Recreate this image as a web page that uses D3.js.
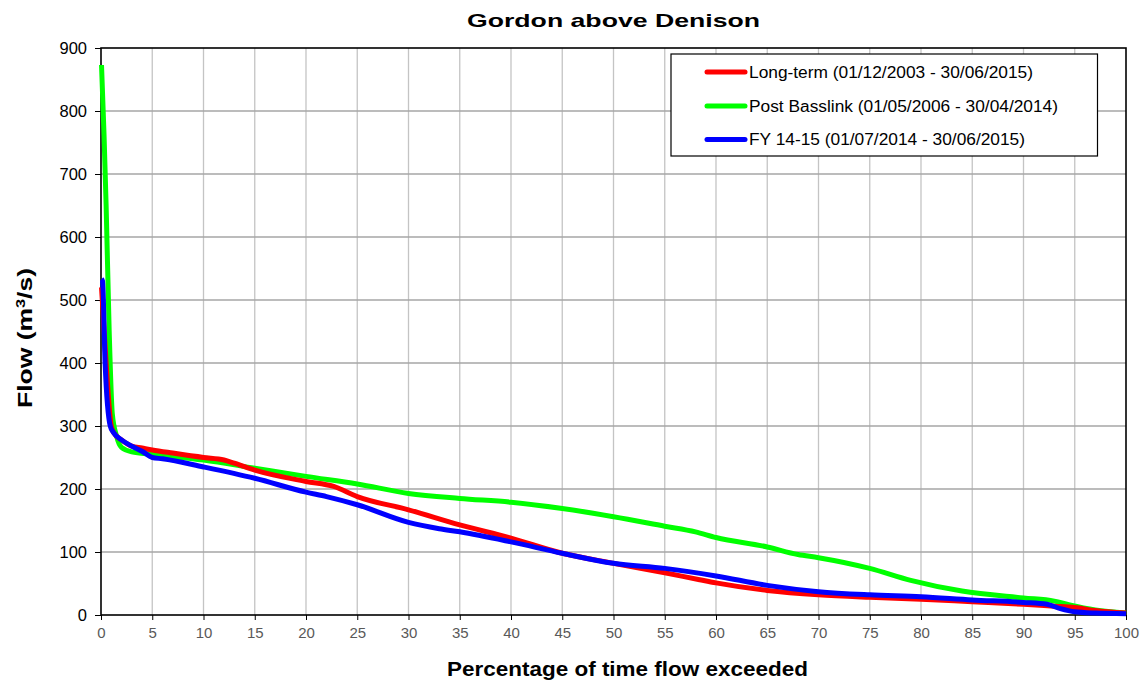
<!DOCTYPE html>
<html><head><meta charset="utf-8">
<script src="https://cdn.jsdelivr.net/npm/d3@7"></script>
<style>
html,body{margin:0;padding:0;background:#fff;}
svg{display:block;font-family:"Liberation Sans",Arial,sans-serif;}
</style></head>
<body><svg id="chart" width="1142" height="682"></svg>
<script>
const title = "Gordon above Denison";
const xTitle = "Percentage of time flow exceeded";
const xTicks = [0,5,10,15,20,25,30,35,40,45,50,55,60,65,70,75,80,85,90,95,100];
const yTicks = [0,100,200,300,400,500,600,700,800,900];
const seriesNames = ["Long-term (01/12/2003 - 30/06/2015)", "Post Basslink (01/05/2006 - 30/04/2014)", "FY 14-15 (01/07/2014 - 30/06/2015)"];
const seriesColors = ["#ff0000", "#00ff00", "#0000ff"];

const longTermX = [0.05,0.5,1.0,1.3,2,3,4,5,7,10,12,13,15,20,22.7,25,30,35,40,45,50,55,58.4,60,65,70,75,80,85,90,93,95,97,100];
const longTermY = [520,400,300,288,278,268,265,262,257,250,246,241,230,212,204,188,167,143,122,98,82,67,56,51,39,32,28,25,21,17,14,12,7,3];

const postX = [0.05,0.3,0.5,0.8,1.1,1.5,2,3,5,10,15,20,25,30,35,40,45,50,55,58,60,65,68,70,75,79,84,90,93,94.5,97,100];
const postY = [873,760,650,450,320,285,266,259,255,246,233,220,208,193,185,179,169,156,141,132,123,108,96,91,74,55,38,27,22,16,8,3];

const fyX = [0.05,0.15,0.4,0.9,1.2,2,3,4,5,6,10,15,20,22,25,30,33,35,40,45,50,55,60,65,70,75,80,85,90,92.3,93.6,95,97,100];
const fyY = [533,530,400,300,290,278,268,260,250,248,235,217,195,188,175,147,137,132,116,98,82,74,62,47,37,32,29,24,20,17,10,5,3,2];

const svg = d3.select("#chart");
const M = {left:101, right:1126, top:48, bottom:615};
const x = d3.scaleLinear().domain([0,100]).range([M.left, M.right]);
const y = d3.scaleLinear().domain([0,900]).range([M.bottom, M.top]);

// gridlines
svg.append("g").selectAll("line").data(xTicks.filter(d=>d>0&&d<100)).join("line")
  .attr("x1",d=>x(d)).attr("x2",d=>x(d)).attr("y1",M.top).attr("y2",M.bottom)
  .attr("stroke","#c4c4c4").attr("stroke-width",1.3);
svg.append("g").selectAll("line").data(yTicks.filter(d=>d>0&&d<900)).join("line")
  .attr("x1",M.left).attr("x2",M.right).attr("y1",d=>y(d)).attr("y2",d=>y(d))
  .attr("stroke","#a6a6a6").attr("stroke-width",1.3);

// frame
svg.append("rect").attr("x",M.left).attr("y",M.top).attr("width",M.right-M.left).attr("height",M.bottom-M.top)
  .attr("fill","none").attr("stroke","#000").attr("stroke-width",1.6);

// axes
const xAxis = svg.append("g").attr("transform",`translate(0,${M.bottom})`)
  .call(d3.axisBottom(x).tickValues(xTicks).tickSize(5).tickPadding(7).tickFormat(d3.format("d")));
xAxis.select(".domain").remove();
xAxis.selectAll("line").attr("stroke","#000");
xAxis.selectAll("text").attr("font-size",15).attr("fill","#595959").attr("font-family","Liberation Sans, Arial, sans-serif");

const yAxis = svg.append("g").attr("transform",`translate(${M.left},0)`)
  .call(d3.axisLeft(y).tickValues(yTicks).tickSize(6).tickPadding(8).tickFormat(d3.format("d")));
yAxis.select(".domain").remove();
yAxis.selectAll("line").attr("stroke","#000");
yAxis.selectAll("text").attr("font-size",16.5).attr("fill","#000").attr("font-family","Liberation Sans, Arial, sans-serif");

// lines
const line = d3.line().x(d=>x(d[0])).y(d=>y(d[1])).curve(d3.curveMonotoneX);
const series = [
  {xs:postX, ys:postY, c:seriesColors[1]},
  {xs:longTermX, ys:longTermY, c:seriesColors[0]},
  {xs:fyX, ys:fyY, c:seriesColors[2]}
];
series.forEach(s=>{
  svg.append("path").datum(s.xs.map((v,i)=>[v,s.ys[i]]))
    .attr("d",line).attr("fill","none").attr("stroke",s.c).attr("stroke-width",5)
    .attr("stroke-linejoin","round").attr("stroke-linecap","butt");
});

// titles
svg.append("text").attr("x",613.5).attr("y",27).attr("text-anchor","middle")
  .attr("font-size",19).attr("font-weight","bold")
  .attr("textLength",293).attr("lengthAdjust","spacingAndGlyphs").text(title);
svg.append("text").attr("x",627.5).attr("y",676).attr("text-anchor","middle")
  .attr("font-size",19.5).attr("font-weight","bold")
  .attr("textLength",361).attr("lengthAdjust","spacingAndGlyphs").text(xTitle);
const yt = svg.append("text").attr("transform","translate(32,338) rotate(-90)").attr("text-anchor","middle")
  .attr("font-size",19.5).attr("font-weight","bold")
  .attr("textLength",140).attr("lengthAdjust","spacingAndGlyphs");
yt.append("tspan").text("Flow (m");
yt.append("tspan").attr("font-size",12).attr("dy",-7).text("3");
yt.append("tspan").attr("dy",7).text("/s)");

// legend
const lg = svg.append("g");
lg.append("rect").attr("x",671).attr("y",54).attr("width",426.5).attr("height",102)
  .attr("fill","#fff").attr("stroke","#000").attr("stroke-width",1.2);
const rows = [72,106,139.5];
const legendLens = [284,309,276];
seriesNames.forEach((n,i)=>{
  lg.append("line").attr("x1",707).attr("x2",745).attr("y1",rows[i]).attr("y2",rows[i])
    .attr("stroke",seriesColors[i]).attr("stroke-width",5).attr("stroke-linecap","round");
  lg.append("text").attr("x",749).attr("y",rows[i]+5.5).attr("font-size",16)
    .attr("textLength",legendLens[i]).attr("lengthAdjust","spacingAndGlyphs").text(n);
});
</script></body></html>
